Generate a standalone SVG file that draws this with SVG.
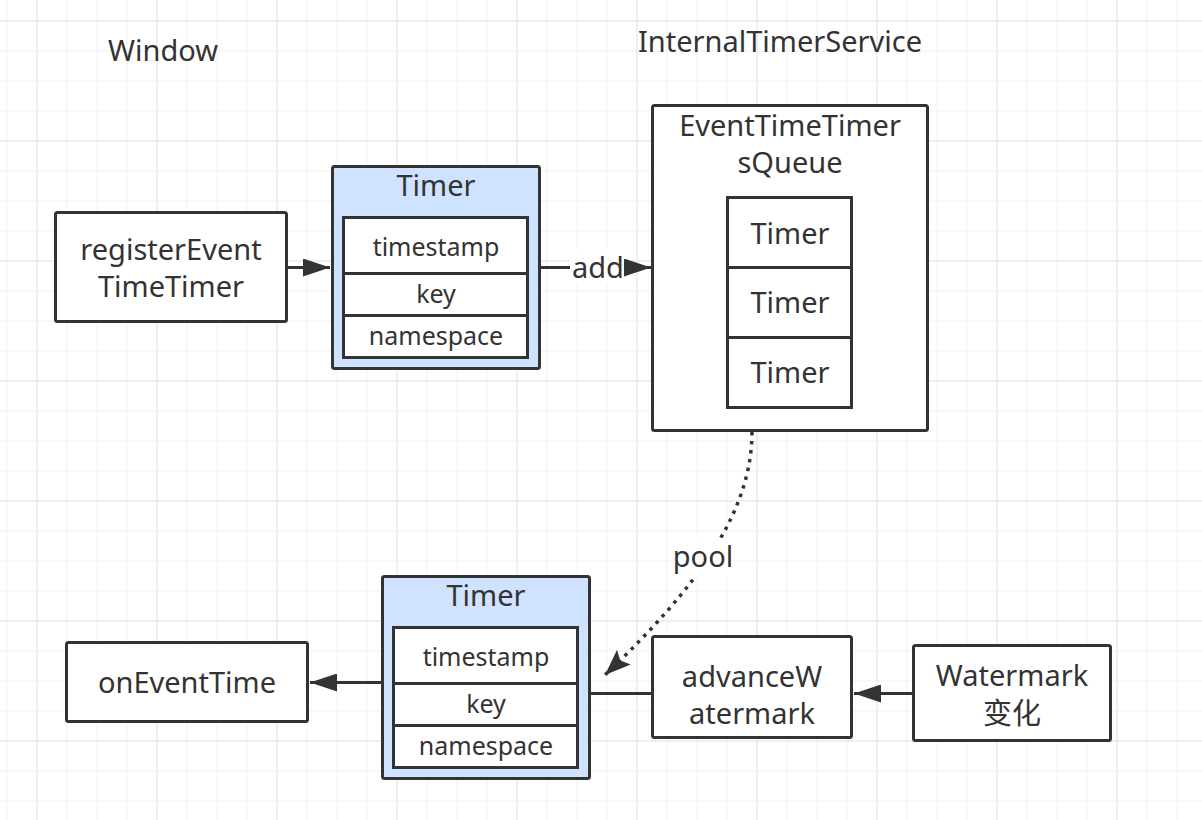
<svg xmlns="http://www.w3.org/2000/svg" width="1202" height="820" viewBox="0 0 1202 820">
  <defs>
    <pattern id="minor" x="6.5" y="20.5" width="30" height="30" patternUnits="userSpaceOnUse">
      <path d="M0,0.5 H30 M0.5,0 V30" fill="none" stroke="#f0f0f0" stroke-width="1"/>
    </pattern>
    <pattern id="major" x="36.5" y="20.5" width="120" height="120" patternUnits="userSpaceOnUse">
      <path d="M0,0.5 H120 M0.5,0 V120" fill="none" stroke="#e6e6e6" stroke-width="1"/>
    </pattern>
    <marker id="arrow" viewBox="0 0 27 18" refX="27" refY="9" markerWidth="27" markerHeight="18" markerUnits="userSpaceOnUse" orient="auto">
      <path d="M0,0 L27,9 L0,18 z" fill="#333"/>
    </marker>
    <marker id="arrow2" viewBox="0 0 26 20" refX="26" refY="10" markerWidth="26" markerHeight="20" markerUnits="userSpaceOnUse" orient="auto">
      <path d="M0,0 L26,10 L0,20 L5,10 z" fill="#333"/>
    </marker>
  </defs>
  <style>
    .box { fill: #ffffff; stroke: #333333; stroke-width: 3; }
    .blue { fill: #cfe2ff; stroke: #333333; stroke-width: 3; }
    .cell { fill: #ffffff; stroke: #333333; stroke-width: 3; }
    .t { font-family: "Noto Sans", "Noto Sans CJK SC", sans-serif; fill: #333333; text-anchor: middle; }
    .big { font-size: 29px; }
    .small { font-size: 25px; }
    .edge { fill: none; stroke: #333333; stroke-width: 3; }
    .dots { fill: none; stroke: #333333; stroke-width: 3.5; stroke-dasharray: 3.5 5.5; }
    .lblbg { fill: #ffffff; }
  </style>

  <rect width="1202" height="820" fill="#ffffff"/>
  <rect width="1202" height="820" fill="url(#minor)"/>
  <rect width="1202" height="820" fill="url(#major)"/>

  <g id="title-window">
    <text class="t big" x="163" y="61">Window</text>
  </g>
  <g id="title-service">
    <text class="t big" x="780" y="52">InternalTimerService</text>
  </g>

  <g id="connectors">
    <line class="edge" x1="287" y1="267.5" x2="330" y2="267.5" marker-end="url(#arrow)"/>
    <line class="edge" x1="540" y1="267.5" x2="651" y2="267.5" marker-end="url(#arrow)"/>
    <rect class="lblbg" x="570" y="250" width="54" height="34"/>
    <text class="t big" x="598" y="278">add</text>
    <path class="dots" d="M752,432 C752,510 700,585 605,675" marker-end="url(#arrow2)"/>
    <rect class="lblbg" x="672" y="538" width="62" height="40"/>
    <text class="t big" x="703" y="567">pool</text>
    <line class="edge" x1="382" y1="682.5" x2="310" y2="682.5" marker-end="url(#arrow)"/>
    <line class="edge" x1="591" y1="693.5" x2="652" y2="693.5"/>
    <line class="edge" x1="913" y1="693.5" x2="854" y2="693.5" marker-end="url(#arrow)"/>
  </g>

  <g id="registerEventTimeTimer">
    <rect class="box" x="55.5" y="212.5" width="231" height="109" rx="2"/>
    <text class="t big" x="171" y="260">registerEvent</text>
    <text class="t big" x="171" y="297">TimeTimer</text>
  </g>

  <g id="timer-top">
    <rect class="blue" x="332.5" y="166.5" width="207" height="202" rx="2"/>
    <text class="t big" x="436" y="196">Timer</text>
    <rect class="cell" x="343.5" y="217.5" width="184" height="56"/>
    <rect class="cell" x="343.5" y="273.5" width="184" height="42"/>
    <rect class="cell" x="343.5" y="315.5" width="184" height="42"/>
    <text class="t small" x="436" y="256">timestamp</text>
    <text class="t small" x="436" y="303">key</text>
    <text class="t small" x="436" y="345">namespace</text>
  </g>

  <g id="eventTimeTimersQueue">
    <rect class="box" x="652.5" y="105.5" width="275" height="325" rx="2"/>
    <text class="t big" x="790" y="136">EventTimeTimer</text>
    <text class="t big" x="790" y="173">sQueue</text>
    <rect class="cell" x="727.5" y="197.5" width="124" height="70"/>
    <rect class="cell" x="727.5" y="267.5" width="124" height="70"/>
    <rect class="cell" x="727.5" y="337.5" width="124" height="70"/>
    <text class="t big" x="790" y="244">Timer</text>
    <text class="t big" x="790" y="313">Timer</text>
    <text class="t big" x="790" y="383">Timer</text>
  </g>

  <g id="timer-bottom">
    <rect class="blue" x="382.5" y="576.5" width="207" height="202" rx="2"/>
    <text class="t big" x="486" y="606">Timer</text>
    <rect class="cell" x="393.5" y="627.5" width="184" height="56"/>
    <rect class="cell" x="393.5" y="683.5" width="184" height="42"/>
    <rect class="cell" x="393.5" y="725.5" width="184" height="42"/>
    <text class="t small" x="486" y="666">timestamp</text>
    <text class="t small" x="486" y="713">key</text>
    <text class="t small" x="486" y="755">namespace</text>
  </g>

  <g id="onEventTime">
    <rect class="box" x="66.5" y="642.5" width="241" height="79" rx="2"/>
    <text class="t big" x="187" y="693">onEventTime</text>
  </g>

  <g id="advanceWatermark">
    <rect class="box" x="652.5" y="636.5" width="199" height="101" rx="2"/>
    <text class="t big" x="752" y="687">advanceW</text>
    <text class="t big" x="752" y="724">atermark</text>
  </g>

  <g id="watermarkChange">
    <rect class="box" x="913.5" y="645.5" width="197" height="95" rx="2"/>
    <text class="t big" x="1012" y="686">Watermark</text>
    <text class="t big" x="1012" y="724">变化</text>
  </g>
</svg>
